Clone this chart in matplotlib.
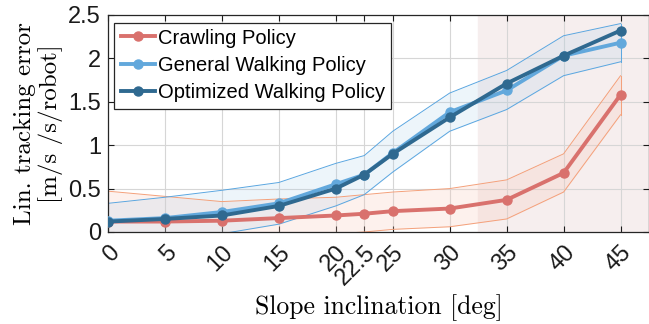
import numpy as np
import matplotlib.pyplot as plt

# Data
slopes = [0, 5, 10, 15, 20, 22.5, 25, 30, 35, 40, 45]
tick_labels = ["0", "5", "10", "15", "20", "22.5", "25", "30", "35", "40", "45"]

crawl = [0.12, 0.12, 0.13, 0.16, 0.19, 0.21, 0.24, 0.27, 0.37, 0.68, 1.58]
crawl_hi = [0.47, 0.41, 0.35, 0.38, 0.40, 0.43, 0.46, 0.50, 0.60, 0.90, 1.80]
crawl_lo = [-0.22, -0.17, -0.10, -0.06, -0.02, 0.00, 0.03, 0.06, 0.15, 0.46, 1.35]

general = [0.13, 0.16, 0.23, 0.33, 0.55, 0.66, 0.91, 1.38, 1.63, 2.03, 2.18]
optimized = [0.12, 0.15, 0.19, 0.30, 0.50, 0.66, 0.90, 1.32, 1.71, 2.03, 2.32]
walk_hi = [0.33, 0.40, 0.48, 0.57, 0.79, 0.88, 1.16, 1.60, 1.86, 2.26, 2.40]
walk_lo = [-0.30, -0.20, -0.02, 0.09, 0.30, 0.43, 0.69, 1.16, 1.41, 1.80, 1.96]

hard_region = (32.5, 47.5)

c_crawl = "#d9716d"
c_crawl_edge = "#f4a07a"
c_gen = "#62a8dc"
c_opt = "#2f6990"
c_band = "#5aa6e0"

fig = plt.figure(figsize=(6.49, 3.24), dpi=100)
ax = fig.add_axes([0.1664, 0.284, 0.8336, 0.67])

ax.axvspan(*hard_region, color="#f6eeee", zorder=0)

ax.fill_between(slopes, crawl_lo, crawl_hi, color="#f8c8b8", alpha=0.25, lw=0, zorder=1)
ax.plot(slopes, crawl_hi, color=c_crawl_edge, lw=0.7, zorder=2)
ax.plot(slopes, crawl_lo, color=c_crawl_edge, lw=0.7, zorder=2)
ax.fill_between(slopes, walk_lo, walk_hi, color="#a8cdea", alpha=0.2, lw=0, zorder=1)
ax.plot(slopes, walk_hi, color=c_band, lw=0.7, zorder=2)
ax.plot(slopes, walk_lo, color=c_band, lw=0.7, zorder=2)
ax.plot([45, 45], [crawl_lo[-1], crawl_hi[-1]], color=c_crawl_edge, lw=0.7, zorder=2)
ax.plot([45, 45], [walk_lo[-1], walk_hi[-1]], color=c_band, lw=0.7, zorder=2)

ax.plot(slopes, crawl, color=c_crawl, lw=2.8, marker="o", ms=6.5, label="Crawling Policy", zorder=4)
ax.plot(slopes, general, color=c_gen, lw=2.8, marker="o", ms=6.5, label="General Walking Policy", zorder=5)
ax.plot(slopes, optimized, color=c_opt, lw=2.8, marker="o", ms=6.5, label="Optimized Walking Policy", zorder=6)

ax.set_xlim(0, 47.5)
ax.set_ylim(0, 2.5)
ax.set_xticks(slopes)
ax.set_xticklabels(tick_labels, rotation=45, ha="right", va="top", rotation_mode="anchor",
                   fontsize=17, family="Liberation Sans")
ax.set_yticks([0, 0.5, 1, 1.5, 2, 2.5])
ax.set_yticklabels(["0", "0.5", "1", "1.5", "2", "2.5"], fontsize=17, family="Liberation Sans")
ax.tick_params(direction="in", length=4, width=0.8, top=True, right=True, pad=5, colors="#1a1a1a")
ax.tick_params(axis="x", pad=7)
ax.grid(True, color="#d6d6d6", lw=0.8)
ax.set_axisbelow(True)
for s in ax.spines.values():
    s.set_color("#262626")
    s.set_linewidth(0.9)

ax.set_xlabel("Slope inclination [deg]", family="cmr10", fontsize=18.5, labelpad=3)
ax.set_ylabel("Lin. tracking error\n[m/s /s/robot]", family="cmr10", fontsize=18, labelpad=4,
              linespacing=1.1)

leg = ax.legend(loc="upper left", bbox_to_anchor=(0.012, 0.965),
                prop={"family": "Liberation Sans", "size": 14.5},
                handlelength=1.7, handletextpad=0.15, borderpad=0.3, labelspacing=0.42,
                fancybox=False, framealpha=1, edgecolor="#262626", borderaxespad=0)
leg.get_frame().set_linewidth(0.9)
leg.set_zorder(10)

fig.savefig("out.png", dpi=100)
